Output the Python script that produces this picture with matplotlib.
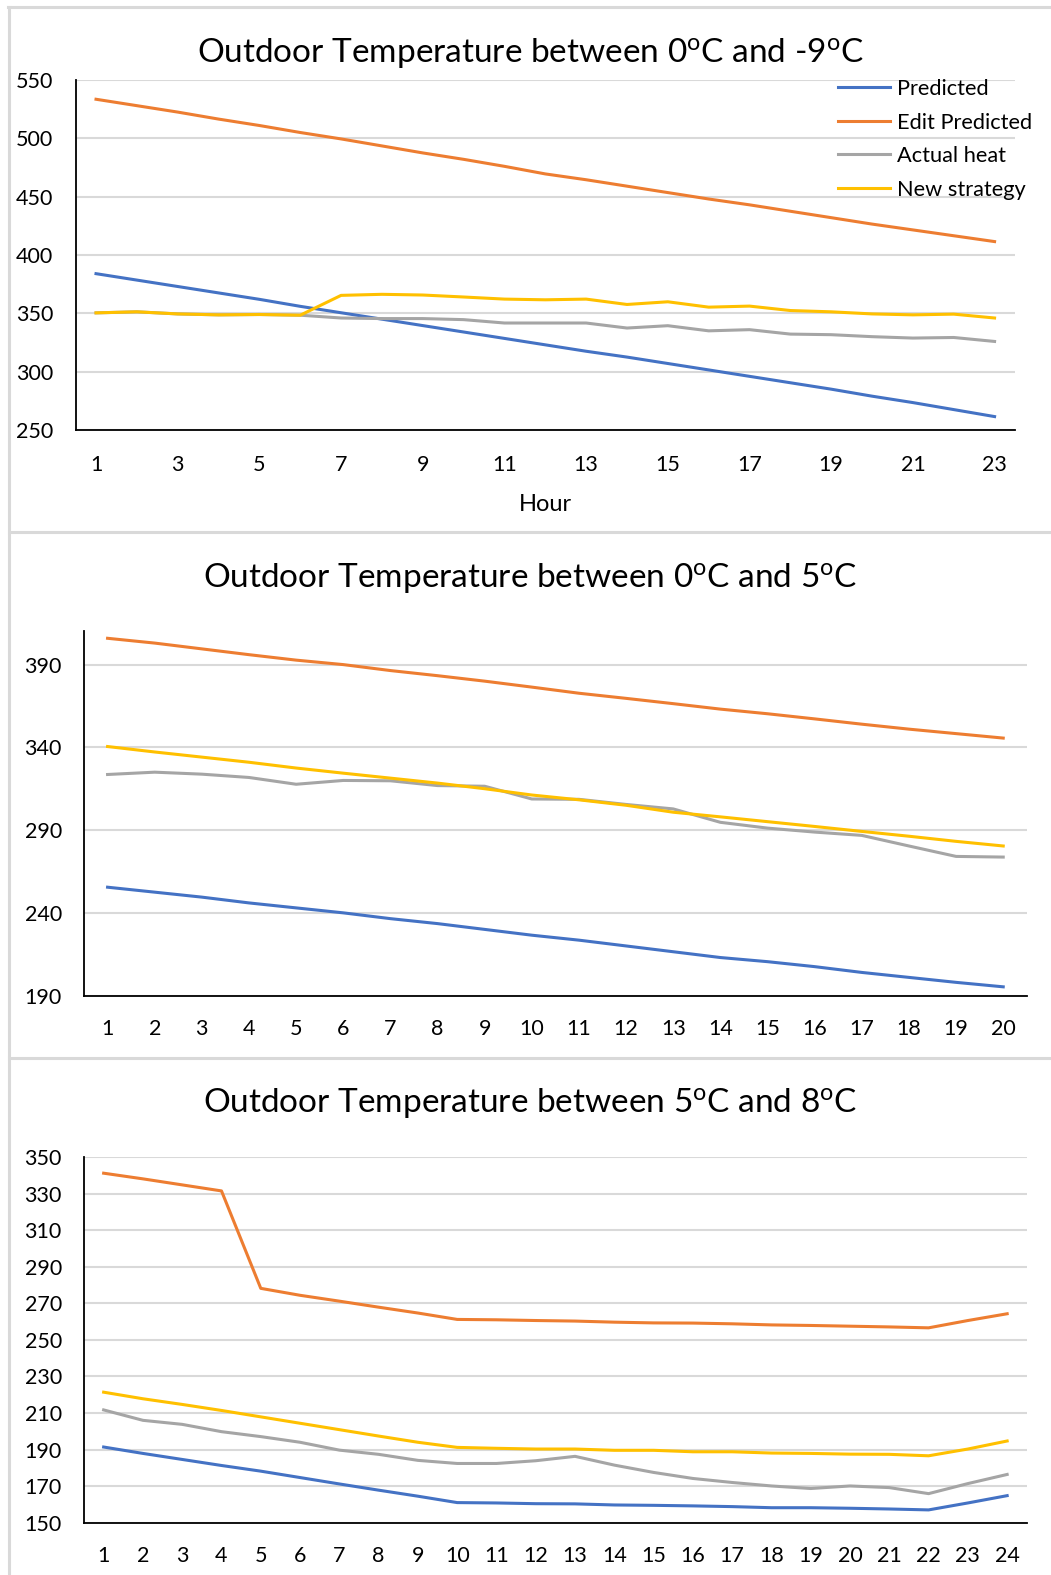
import matplotlib
matplotlib.use('Agg')
import matplotlib.pyplot as plt
from matplotlib.lines import Line2D

plt.rcParams['font.family'] = ['Lato', 'DejaVu Sans']
plt.rcParams['mathtext.fontset'] = 'custom'
plt.rcParams['mathtext.rm'] = 'Lato'
plt.rcParams['mathtext.it'] = 'Lato'

# ---- series, panel 1 (0C to -9C), hours 1..23
hours1 = list(range(1, 24))
pred1 = [384, 378.5, 373, 367.5, 362, 356, 350.5, 345, 339.5, 334, 328.5, 323,
         317.5, 312.5, 307, 301.5, 296, 290.5, 285, 279, 273.5, 267.5, 261.5]
edit1 = [533.5, 528, 522.5, 516.5, 511, 505, 499.5, 493.5, 487.5, 482, 476, 469.5,
         464.5, 459, 453.5, 448, 443, 437.5, 432, 426.5, 421.5, 416.5, 411.5]
actual1 = [350.4, 351.3, 349.5, 348.7, 349, 348.4, 346, 345.5, 345.5, 344.6, 341.7, 341.7,
           341.7, 337.4, 339.4, 335, 336, 332.2, 331.7, 330, 328.8, 329.3, 325.9]
new1 = [350.4, 351.3, 349.5, 348.7, 349, 348.4, 365.4, 366.3, 365.7, 364, 362.2, 361.6,
        362.2, 357.6, 359.9, 355.3, 356.2, 352.4, 351.3, 349.5, 348.7, 349.3, 346]

# ---- series, panel 2 (0C to 5C), hours 1..20
hours2 = list(range(1, 21))
pred2 = [255.5, 252.5, 249.5, 246, 243, 240, 236.5, 233.5, 230, 226.5,
         223.5, 220, 216.5, 213, 210.5, 207.5, 204, 201, 198, 195.3]
edit2 = [405.9, 403, 399.5, 396, 392.7, 390, 386.4, 383.3, 380, 376.4,
         372.7, 369.6, 366.4, 363.1, 360.3, 357.2, 354, 351, 348.3, 345.6]
actual2 = [323.6, 325, 323.8, 321.8, 317.7, 320, 319.8, 316.9, 316.5, 308.8,
           308.6, 305.5, 302.8, 294.7, 291.2, 288.8, 286.8, 280.4, 274.1, 273.7]
new2 = [340.5, 337.2, 334.1, 331, 327.5, 324.4, 321.4, 318.4, 315, 311.2,
        308.3, 305, 300.8, 298, 295.1, 292.2, 289.2, 286.3, 283.2, 280.4]

# ---- series, panel 3 (5C to 8C), hours 1..24
hours3 = list(range(1, 25))
pred3 = [191.4, 187.9, 184.6, 181.3, 178.2, 174.7, 171.2, 167.8, 164.5, 161, 160.8, 160.4,
         160.3, 159.7, 159.5, 159.2, 158.8, 158.2, 158.2, 157.9, 157.5, 157, 160.8, 164.8]
edit3 = [341.2, 338.1, 334.8, 331.5, 278.2, 274.4, 271.2, 267.9, 264.7, 261.2, 261, 260.6,
         260.3, 259.7, 259.3, 259.2, 258.8, 258.2, 257.9, 257.5, 257.1, 256.6, 260.6, 264.3]
actual3 = [211.7, 206, 203.8, 199.8, 197.1, 194, 189.7, 187.4, 184.1, 182.4, 182.4, 183.9,
           186.3, 181.5, 177.5, 174.2, 172, 170.1, 168.7, 170.1, 169.2, 165.9, 171.4, 176.4]
new3 = [221.4, 217.8, 214.7, 211.4, 207.9, 204.4, 200.9, 197.4, 194, 191.2, 190.7, 190.3,
        190.3, 189.6, 189.6, 188.8, 188.8, 188.1, 187.9, 187.5, 187.4, 186.6, 190.3, 194.7]

series_names = ['Predicted', 'Edit Predicted', 'Actual heat', 'New strategy']
colors = ['#4472C4', '#ED7D31', '#A5A5A5', '#FFC000']

titles = ['Outdoor Temperature between 0$^{\\mathrm{o}}$C and -9$^{\\mathrm{o}}$C',
          'Outdoor Temperature between 0$^{\\mathrm{o}}$C and 5$^{\\mathrm{o}}$C',
          'Outdoor Temperature between 5$^{\\mathrm{o}}$C and 8$^{\\mathrm{o}}$C']

W, H = 1051, 1575
fig = plt.figure(figsize=(W / 100, H / 100), dpi=100)


def px_axes(l, t, r, b):
    return fig.add_axes([l / W, 1 - b / H, (r - l) / W, (b - t) / H])


def style(ax, ylo, yhi, ystep, xpad):
    ax.set_ylim(ylo, yhi)
    ax.set_yticks(list(range(ylo, yhi + 1, ystep)))
    ax.grid(axis='y', color='#d9d9d9', linewidth=1.5)
    ax.set_axisbelow(True)
    for s in ['top', 'right']:
        ax.spines[s].set_visible(False)
    for s in ['left', 'bottom']:
        ax.spines[s].set_color('black')
        ax.spines[s].set_linewidth(1.3)
    ax.tick_params(axis='both', length=0, labelsize=15.5)
    ax.tick_params(axis='y', pad=16)
    ax.tick_params(axis='x', pad=xpad)


panels = [
    (hours1, [pred1, edit1, actual1, new1], (75.6, 80, 1015, 430), (250, 550, 50), 2, 53),
    (hours2, [pred2, edit2, actual2, new2], (84, 631.5, 1026.8, 995.6), (190, 410, 50), 1, 578),
    (hours3, [pred3, edit3, actual3, new3], (84, 1157.1, 1026.8, 1522.7), (150, 350, 20), 1, 1103),
]

axes = []
for i, (hrs, data, box, yr, xstep, ty) in enumerate(panels):
    ax = px_axes(*box)
    for vals, name, c in zip(data, series_names, colors):
        ax.plot(hrs, vals, color=c, lw=2.2, label=name, solid_joinstyle='round')
    ax.set_xlim(0.5, len(hrs) + 0.5)
    ax.set_xticks(hrs[::xstep])
    style(ax, yr[0], yr[1], yr[2], 18 if i == 0 else 17)
    if i == 1:
        ax.set_yticks([190, 240, 290, 340, 390])
    fig.text(530 / W, 1 - ty / H, titles[i], ha='center', va='center', fontsize=24)
    axes.append(ax)

axes[0].set_xlabel('Hour', fontsize=17, labelpad=14)

handles = [Line2D([], [], color=c, lw=2.2) for c in colors]
fig.legend(handles, series_names, loc='upper left', frameon=False, fontsize=15.7,
           bbox_to_anchor=(838 / W, 1 - 79 / H), borderpad=0, borderaxespad=0,
           handlelength=2.4, handletextpad=0.3, labelspacing=0.62)

# panel frames
frame = dict(color='#d9d9d9', lw=2.2, transform=fig.transFigure)
fig.add_artist(Line2D([8 / W, 1], [1 - 7 / H, 1 - 7 / H], **frame))
fig.add_artist(Line2D([9 / W, 9 / W], [0, 1 - 7 / H], **frame))
fig.add_artist(Line2D([9 / W, 1], [1 - 531.5 / H, 1 - 531.5 / H], **frame))
fig.add_artist(Line2D([9 / W, 1], [1 - 1058 / H, 1 - 1058 / H], **frame))

fig.savefig('out.png', dpi=100, facecolor='white')
